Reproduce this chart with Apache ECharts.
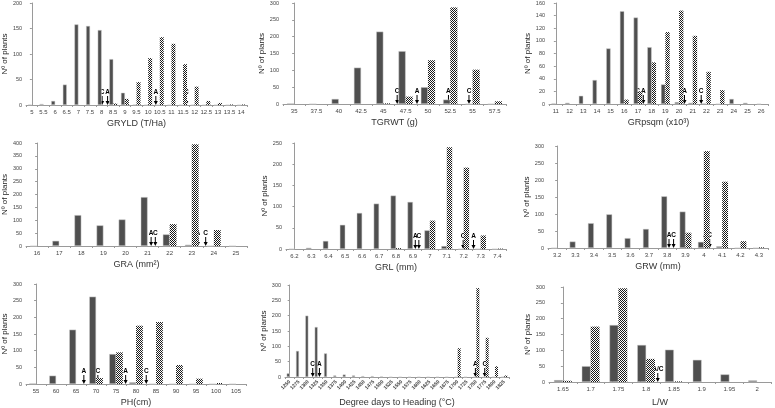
<!DOCTYPE html>
<html><head><meta charset="utf-8">
<script src="https://cdn.jsdelivr.net/npm/echarts@6/dist/echarts.min.js"></script>
<style>html,body{margin:0;padding:0;background:#fff}#c{width:775px;height:408px}</style>
</head><body><div id="c"></div>
<script>
// ---- data ----
const gryldCats = ['5','5.5','6','6.5','7','7.5','8','8.5','9','9.5','10','10.5','11','11.5','12','12.5','13','13.5','14'];
const gryldDark = [1,2,8,40,158,155,147,90,24,1,0,0,0,0,0,0,0,0,0];
const gryldHatch = [0,0,0,0,0,0,0,3,12,45,92,133,120,80,36,8,4,1,1];
const gryldArrows = [[6.04,'C'],[6.51,'A'],[10.66,'A'],[13.28,'C']];

const tgrwtCats = ['35','37.5','40','42.5','45','47.5','50','52.5','55','57.5'];
const tgrwtDark = [2,0,15,108,215,157,50,13,0,0];
const tgrwtHatch = [0,0,0,0,2,22,130,287,102,8];
const tgrwtArrows = [[4.62,'C'],[5.51,'A'],[6.92,'A'],[7.84,'C']];

const grpsqmCats = ['11','12','13','14','15','16','17','18','19','20','21','22','23','24','25','26'];
const grpsqmDark = [1,2,13,38,88,147,137,90,31,3,2,1,0,8,2,0];
const grpsqmHatch = [0,0,0,0,0,7,20,66,114,148,108,51,22,0,0,0];
const grpsqmArrows = [[5.98,'C'],[6.39,'A'],[9.40,'A'],[10.62,'C']];

const graCats = ['16','17','18','19','20','21','22','23','24','25'];
const graDark = [0,20,120,80,103,190,45,5,0,0];
const graHatch = [0,0,0,0,0,0,85,395,62,0];
const graArrows = [[5.16,'A'],[5.35,'C'],[7.28,'A'],[7.63,'C']];

const grlCats = ['6.2','6.3','6.4','6.5','6.6','6.7','6.8','6.9','7','7.1','7.2','7.3','7.4'];
const grlDark = [0,3,19,57,85,107,126,111,44,7,0,0,0];
const grlHatch = [0,0,0,0,0,0,2,0,67,240,192,32,1];
const grlArrows = [[7.14,'A'],[7.35,'C'],[9.97,'C'],[10.58,'A']];

const grwCats = ['3.2','3.3','3.4','3.5','3.6','3.7','3.8','3.9','4','4.1','4.2','4.3'];
const grwDark = [0,19,73,99,29,56,152,107,18,5,0,0];
const grwHatch = [0,0,0,0,0,0,0,45,285,195,20,2];
const grwArrows = [[6.10,'A'],[6.35,'C'],[8.10,'A'],[8.32,'C']];

const phCats = ['55','60','65','70','75','80','85','90','95','100','105'];
const phDark = [2,25,163,262,90,5,0,0,0,0,0];
const phHatch = [0,0,0,18,95,175,186,57,16,3,0];
const phArrows = [[2.39,'A'],[3.09,'C'],[4.48,'A'],[5.51,'C']];

const ddCats = ['1250','1275','1300','1325','1350','1375','1400','1425','1450','1475','1500','1525','1550','1575','1600','1625','1650','1675','1700','1725','1750','1775','1800','1825'];
const ddDark = [12,85,200,163,77,5,8,5,3,3,2,0,0,0,0,0,0,0,0,0,0,0,0,0];
const ddHatch = [0,0,0,0,0,0,0,0,0,0,0,0,0,0,0,0,0,0,94,0,290,128,35,5];
const ddArrows = [[2.47,'C'],[3.19,'A'],[19.9,'A'],[20.9,'C']];

const lwCats = ['1.65','1.7','1.75','1.8','1.85','1.9','1.95','2'];
const lwDark = [6,50,180,117,102,70,24,5];
const lwHatch = [4,175,296,73,2,0,0,0];
const lwArrows = [[1.80,'C'],[2.79,'A'],[3.42,'A/C']];

// ---- chart ----
function makePattern(){
  const c = document.createElement('canvas'); c.width = 2; c.height = 2;
  const g = c.getContext('2d');
  g.fillStyle = '#fff'; g.fillRect(0,0,2,2);
  g.fillStyle = '#1a1a1a'; g.fillRect(0,0,1,1); g.fillRect(1,1,1,1);
  return c;
}
const pattern = {image: makePattern(), repeat: 'repeat'};
const FONT = 'Liberation Sans, Arial, sans-serif';
const grids = [], xAxes = [], yAxes = [], series = [];

function panel(cfg){
  const gi = grids.length;
  grids.push({left: cfg.l, top: cfg.t, width: cfg.w, height: cfg.h});
  xAxes.push({
    type:'category', gridIndex: gi, data: cfg.cats,
    name: cfg.xName, nameLocation:'middle', nameGap: cfg.xGap || 14,
    nameTextStyle:{fontFamily: FONT, fontSize: 9, color:'#333'},
    axisLine:{lineStyle:{color:'#9a9a9a', width:1}},
    axisTick:{show:true, length:2, lineStyle:{color:'#9a9a9a'}},
    axisLabel:{interval:0, fontFamily: FONT, fontSize: cfg.lblSize || 6, color:'#444', margin: 4, rotate: cfg.rotate || 0, fontWeight: cfg.rotate ? 'bold' : 'normal'}
  });
  const vxi = xAxes.length;
  xAxes.push({type:'value', gridIndex: gi, min: -0.5, max: cfg.cats.length - 0.5, show:false});
  const yi = yAxes.length;
  yAxes.push({
    type:'value', gridIndex: gi, min:0, max: cfg.max, interval: cfg.step,
    name:'Nº of plants', nameLocation:'middle', nameGap: cfg.yGap || 15, nameRotate: 90,
    nameTextStyle:{fontFamily: FONT, fontSize: 8, color:'#222'},
    axisLine:{show:true, lineStyle:{color:'#9a9a9a'}},
    axisTick:{show:true, length:2, lineStyle:{color:'#9a9a9a'}},
    axisLabel:{fontFamily: FONT, fontSize: 5.5, color:'#444', margin: 4},
    splitLine:{show:false}
  });
  const xi = vxi - 1;
  series.push({type:'bar', xAxisIndex: xi, yAxisIndex: yi, data: cfg.dark,
    barGap: '0%', barCategoryGap: cfg.gap || '36%',
    itemStyle:{color:'#4f4f4f', borderColor:'#cfcfcf', borderWidth:0.5}, silent:true, animation:false});
  series.push({type:'bar', xAxisIndex: xi, yAxisIndex: yi, data: cfg.hatch,
    barGap: '0%', barCategoryGap: cfg.gap || '36%',
    itemStyle:{color: pattern}, silent:true, animation:false});
  const arrows = cfg.arrows;
  const alen = cfg.alen || 9;
  series.push({type:'custom', xAxisIndex: vxi, yAxisIndex: yi, animation:false, silent:true,
    data: arrows.map(a => [a[0], 0]),
    renderItem: function(params, api){
      const p = api.coord([api.value(0), 0]);
      const letter = arrows[params.dataIndex][1];
      return {type:'group', children:[
        {type:'line', shape:{x1:p[0], y1:p[1]-alen, x2:p[0], y2:p[1]-2}, style:{stroke:'#000', lineWidth:1}},
        {type:'polygon', shape:{points:[[p[0]-2,p[1]-4],[p[0]+2,p[1]-4],[p[0],p[1]]]}, style:{fill:'#000'}},
        {type:'text', style:{text: letter, x:p[0], y:p[1]-alen-0.5, align:'center', verticalAlign:'bottom',
          font:'bold 6.5px ' + FONT, fill:'#000'}}
      ]};
    }
  });
}

panel({l:22, t:2, w:225, h:103, cats:gryldCats, dark:gryldDark, hatch:gryldHatch, arrows:gryldArrows, max:200, step:50, xName:'GRYLD (T/Ha)', gap:'32%'});
panel({l:283, t:3, w:223, h:101, cats:tgrwtCats, dark:tgrwtDark, hatch:tgrwtHatch, arrows:tgrwtArrows, max:300, step:50, xName:'TGRWT (g)', gap:'36%'});
panel({l:549, t:2, w:219, h:102, cats:grpsqmCats, dark:grpsqmDark, hatch:grpsqmHatch, arrows:grpsqmArrows, max:160, step:20, xName:'GRpsqm (x10³)', gap:'36%'});
panel({l:22, t:143, w:225, h:103, cats:graCats, dark:graDark, hatch:graHatch, arrows:graArrows, max:400, step:50, xName:'GRA (mm²)', gap:'38%'});
panel({l:286, t:143, w:220, h:106, cats:grlCats, dark:grlDark, hatch:grlHatch, arrows:grlArrows, max:250, step:50, xName:'GRL (mm)', gap:'36%'});
panel({l:548, t:146, w:220, h:102, cats:grwCats, dark:grwDark, hatch:grwHatch, arrows:grwArrows, max:300, step:50, xName:'GRW (mm)', gap:'36%'});
panel({l:22, t:284, w:224, h:103, cats:phCats, dark:phDark, hatch:phHatch, arrows:phArrows, max:300, step:50, xName:'PH(cm)', gap:'32%'});
panel({l:285, t:285, w:224, h:95, cats:ddCats, dark:ddDark, hatch:ddHatch, arrows:ddArrows, max:300, step:50, xName:'Degree days to Heading (°C)', gap:'36%', rotate:45, lblSize:5, xGap:21});
panel({l:549, t:287, w:222, h:102, cats:lwCats, dark:lwDark, hatch:lwHatch, arrows:lwArrows, max:300, step:50, xName:'L/W', gap:'36%', xGap:16});

const chart = echarts.init(document.getElementById('c'), null, {renderer:'canvas'});
chart.setOption({animation:false, backgroundColor:'#fff', grid:grids, xAxis:xAxes, yAxis:yAxes, series:series});
</script></body></html>
